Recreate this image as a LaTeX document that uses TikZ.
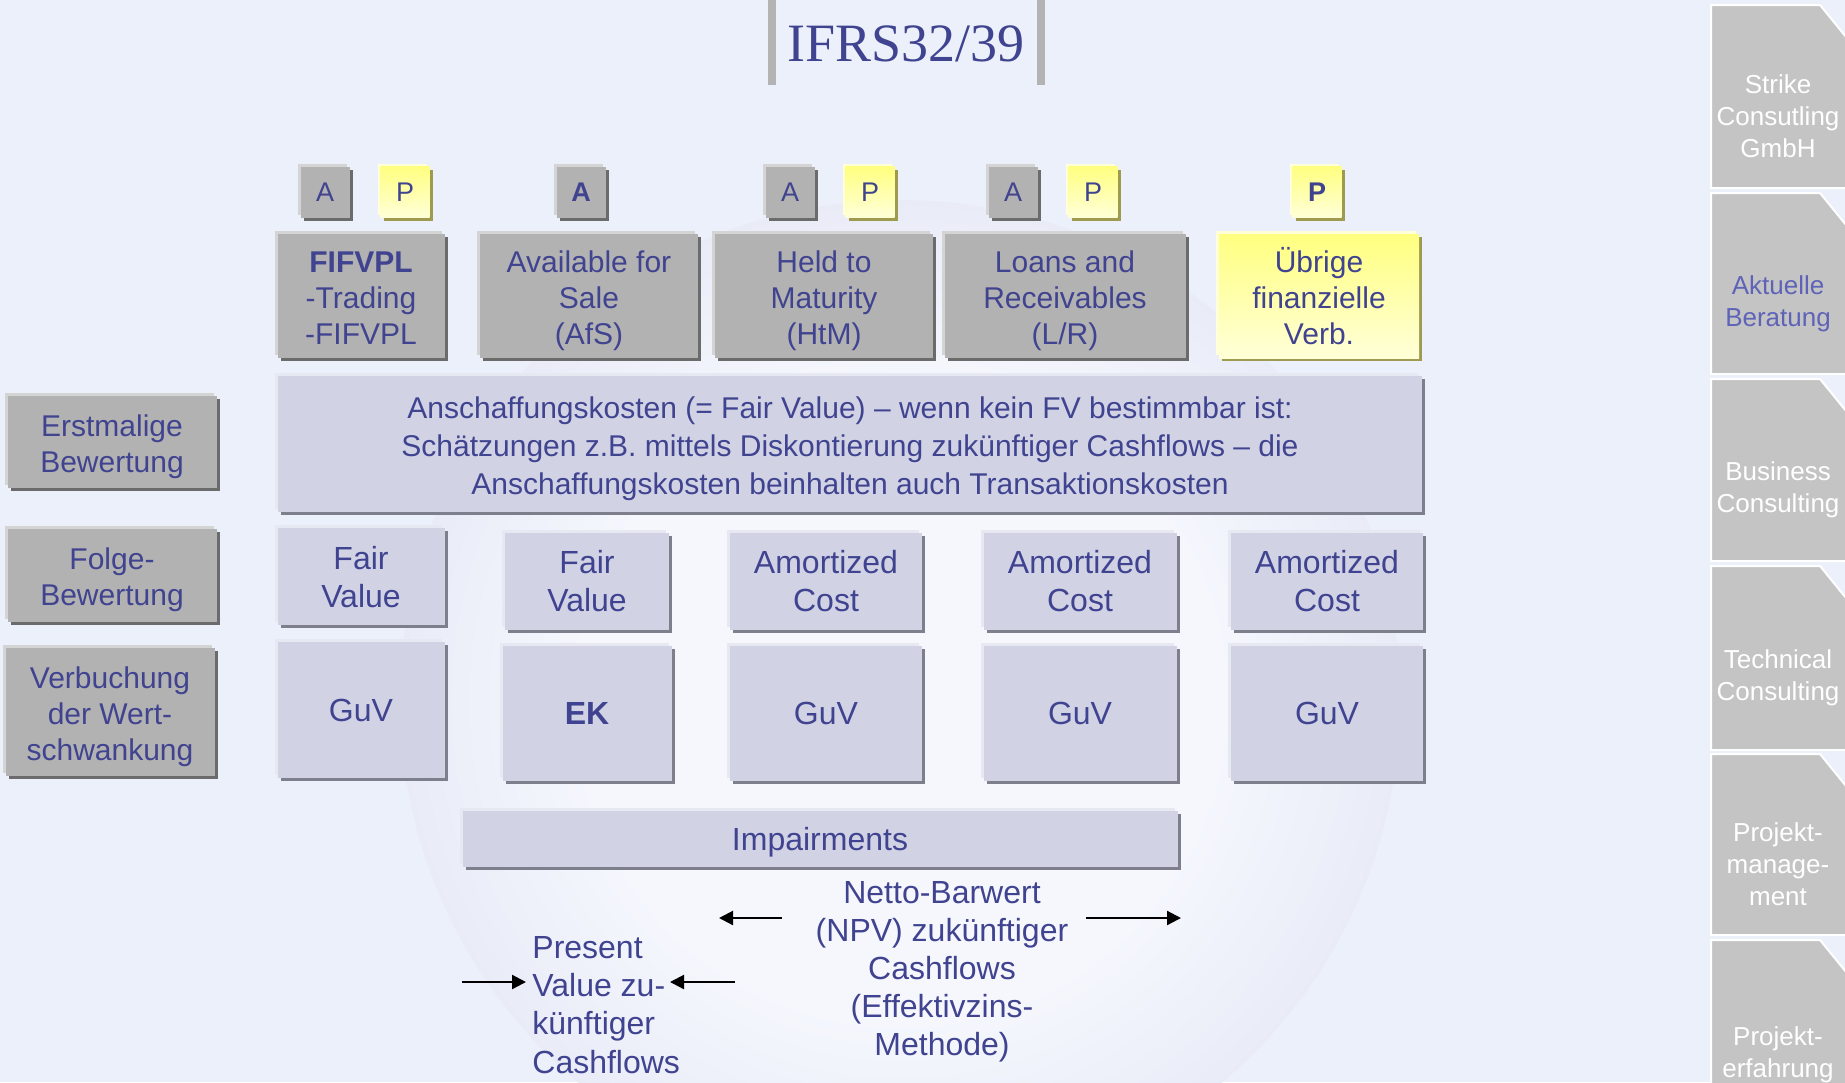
\documentclass[tikz,border=0pt]{standalone}
\usepackage{fontspec}
\setmainfont{Liberation Sans}
\newfontfamily\titlefont{Liberation Serif}
\usetikzlibrary{shadows,arrows.meta}

\definecolor{bgblue}{HTML}{EBF0FA}
\definecolor{ink}{HTML}{40438F}
\definecolor{boxgray}{HTML}{B2B2B2}
\definecolor{grayshade}{HTML}{6B6B6B}
\definecolor{grayhi}{HTML}{D4D4D4}
\definecolor{lav}{HTML}{D1D3E5}
\definecolor{lavshade}{HTML}{7E7F8C}
\definecolor{lavhi}{HTML}{E6E8F2}
\definecolor{ylwtop}{HTML}{FFFF80}
\definecolor{ylwbot}{HTML}{FFFFD8}
\definecolor{ylwshade}{HTML}{9E9A4E}
\definecolor{tabgray}{HTML}{C4C4C4}
\definecolor{tablink}{HTML}{5E63B8}
\definecolor{barg}{HTML}{B3B3B3}
\definecolor{globein}{HTML}{F5F7FD}
\definecolor{globemid}{HTML}{DCE0F1}
\definecolor{globeedge}{HTML}{CCD0E8}

\pgfdeclareradialshading{globe}{\pgfpoint{0bp}{0bp}}{color(0bp)=(globein); color(16bp)=(globein); color(35bp)=(globemid); color(46bp)=(globeedge); color(50bp)=(bgblue); color(100bp)=(bgblue)}

% strut for the first line of a multi-line label
\newcommand\lup[1][1.05em]{\rule{0pt}{#1}}

\begin{document}
\begin{tikzpicture}[x=0.5pt,y=-0.5pt,
    txt/.style={text=ink,align=center,inner sep=0pt,
      execute at begin node={\rule{0pt}{0.905em}},
      execute at end node={\rule[-0.212em]{0pt}{0.212em}}},
    graybox/.style={txt,fill=boxgray,font=\fontsize{15}{18}\selectfont,
      general shadow={shadow xshift=-1.5pt,shadow yshift=1.5pt,fill=grayhi},
      drop shadow={shadow xshift=1.5pt,shadow yshift=-1.5pt,fill=grayshade,opacity=1}},
    ylwbox/.style={txt,top color=ylwtop,bottom color=ylwbot,font=\fontsize{15}{18}\selectfont,
      general shadow={shadow xshift=-1.5pt,shadow yshift=1.5pt,fill=ylwbot},
      drop shadow={shadow xshift=1.5pt,shadow yshift=-1.5pt,fill=ylwshade,opacity=1}},
    lavbox/.style={txt,fill=lav,font=\fontsize{16}{19}\selectfont,
      general shadow={shadow xshift=-1.5pt,shadow yshift=1.5pt,fill=lavhi},
      drop shadow={shadow xshift=1.5pt,shadow yshift=-1.5pt,fill=lavshade,opacity=1}},
    atag/.style={graybox,font=\fontsize{13.5}{16}\selectfont,minimum width=24.5pt,minimum height=25.5pt},
    ptag/.style={ylwbox,font=\fontsize{13.5}{16}\selectfont,minimum width=24.5pt,minimum height=25.5pt},
    cat/.style={minimum height=62pt},
    valbox/.style={lavbox,minimum height=48.5pt},
    tab/.style={fill=tabgray,draw=white,line width=1pt},
    tabtext/.style={align=center,inner sep=0pt,font=\fontsize{13}{16}\selectfont},
    flow/.style={-{Triangle[length=7pt,width=7pt]},line width=1.1pt,black},
    titlebar/.style={barg,line width=4pt}]

  \useasboundingbox (0,0) rectangle (1845,1082);
  \fill[bgblue] (0,0) rectangle (1845,1082);
  \shade[shading=globe] (900,700) circle (500);

  % title
  \node[font=\titlefont\fontsize{27}{30}\selectfont,text=ink] (title) at (906,44) {IFRS32/39};
  \draw[titlebar] (772,0) -- (772,85);
  \draw[titlebar] (1041,0) -- (1041,85);

  % A / P tags
  \node[atag] (a1) at (325,192) {A};
  \node[ptag] (p1) at (405,192) {P};
  \node[atag] (a2) at (581,192) {\bfseries A};
  \node[atag] (a3) at (790,192) {A};
  \node[ptag] (p3) at (870,192) {P};
  \node[atag] (a4) at (1013,192) {A};
  \node[ptag] (p4) at (1093,192) {P};
  \node[ptag] (p5) at (1317,192) {\bfseries P};

  % categories
  \node[graybox,cat,minimum width=83.5pt] (fifvpl) at (361,296) {\lup\textbf{FIFVPL}\\-Trading\\-FIFVPL};
  \node[graybox,cat,minimum width=109pt] (afs) at (589,296) {\lup Available for\\Sale\\(AfS)};
  \node[graybox,cat,minimum width=109pt] (htm) at (824,296) {\lup Held to\\Maturity\\(HtM)};
  \node[graybox,cat,minimum width=120.5pt] (lr) at (1065,296) {\lup Loans and\\Receivables\\(L/R)};
  \node[ylwbox,cat,minimum width=100pt] (verb) at (1319,296) {\lup Übrige\\finanzielle\\Verb.};

  % row labels
  \node[graybox,minimum width=104.5pt,minimum height=46pt] (erst) at (112,442) {\lup Erstmalige\\Bewertung};
  \node[graybox,minimum width=104.5pt,minimum height=46.5pt] (folge) at (112,575) {\lup Folge-\\Bewertung};
  \node[graybox,minimum width=104.5pt,minimum height=64pt] (wert) at (110,712) {\lup Verbuchung\\der Wert-\\schwankung};

  % first valuation
  \node[lavbox,font=\fontsize{15}{18.8}\selectfont,minimum width=572pt,minimum height=68pt] (ak) at (850,444)
    {\lup Anschaffungskosten (= Fair Value) -- wenn kein FV bestimmbar ist:\\Schätzungen z.B. mittels Diskontierung zukünftiger Cashflows -- die\\Anschaffungskosten beinhalten auch Transaktionskosten};

  % subsequent valuation
  \node[valbox,minimum width=83.5pt] (fv1) at (361,576) {\lup[1em]Fair\\Value};
  \node[valbox,minimum width=82pt] (fv2) at (587,581) {\lup[0.95em]Fair\\Value};
  \node[valbox,minimum width=96pt] (ac1) at (826,581) {\lup[0.9em]Amortized\\Cost};
  \node[valbox,minimum width=96.5pt] (ac2) at (1080,581) {\lup[0.9em]Amortized\\Cost};
  \node[valbox,minimum width=96pt] (ac3) at (1327,581) {\lup[0.9em]Amortized\\Cost};

  % booking
  \node[lavbox,minimum width=83.5pt,minimum height=68pt] (guv1) at (361,710) {GuV};
  \node[lavbox,minimum width=84.5pt,minimum height=67.5pt] (ek) at (587,713) {\textbf{EK}};
  \node[lavbox,minimum width=96pt,minimum height=67.5pt] (guv2) at (826,713) {GuV};
  \node[lavbox,minimum width=96.5pt,minimum height=67.5pt] (guv3) at (1080,713) {GuV};
  \node[lavbox,minimum width=96pt,minimum height=67.5pt] (guv4) at (1327,713) {GuV};

  % impairments
  \node[lavbox,minimum width=357.5pt,minimum height=28pt] (imp) at (820,839) {Impairments};
  \node[txt,anchor=west,align=left,font=\fontsize{16}{19.2}\selectfont] (pv) at (532,1003)
    {\lup[1em]Present\\Value zu-\\künftiger\\Cashflows};
  \node[txt,font=\fontsize{16}{19}\selectfont] (npv) at (942,968)
    {\lup[0.95em]Netto-Barwert\\(NPV) zukünftiger\\Cashflows\\(Effektivzins-\\Methode)};

  \coordinate (l1) at (462,982);  \coordinate (l2) at (526,982);
  \coordinate (m1) at (735,982);  \coordinate (m2) at (670,982);
  \coordinate (n1) at (782,918);  \coordinate (n2) at (719,918);
  \coordinate (r1) at (1086,918); \coordinate (r2) at (1181,918);
  \draw[flow] (l1) -- (l2);
  \draw[flow] (m1) -- (m2);
  \draw[flow] (n1) -- (n2);
  \draw[flow] (r1) -- (r2);

  % side tabs
  \foreach \i/\ya/\yb/\col/\lbl in {1/5/188/white/{Strike\\Consutling\\GmbH},
      2/193/374/tablink/{Aktuelle\\Beratung}, 3/379/561/white/{Business\\Consulting},
      4/566/750/white/{Technical\\Consulting}, 5/754/935/white/{Projekt-\\manage-\\ment},
      6/940/1130/white/{Projekt-\\erfahrung}} {
    \draw[tab] (1711,\ya) -- (1820,\ya) -- (1846,\ya+32) -- (1846,\yb) -- (1711,\yb) -- cycle;
    \node[tabtext,text=\col] (tab\i) at (1778,{(\ya+\yb)/2+20}) {\lbl};
  }
\end{tikzpicture}
\end{document}
